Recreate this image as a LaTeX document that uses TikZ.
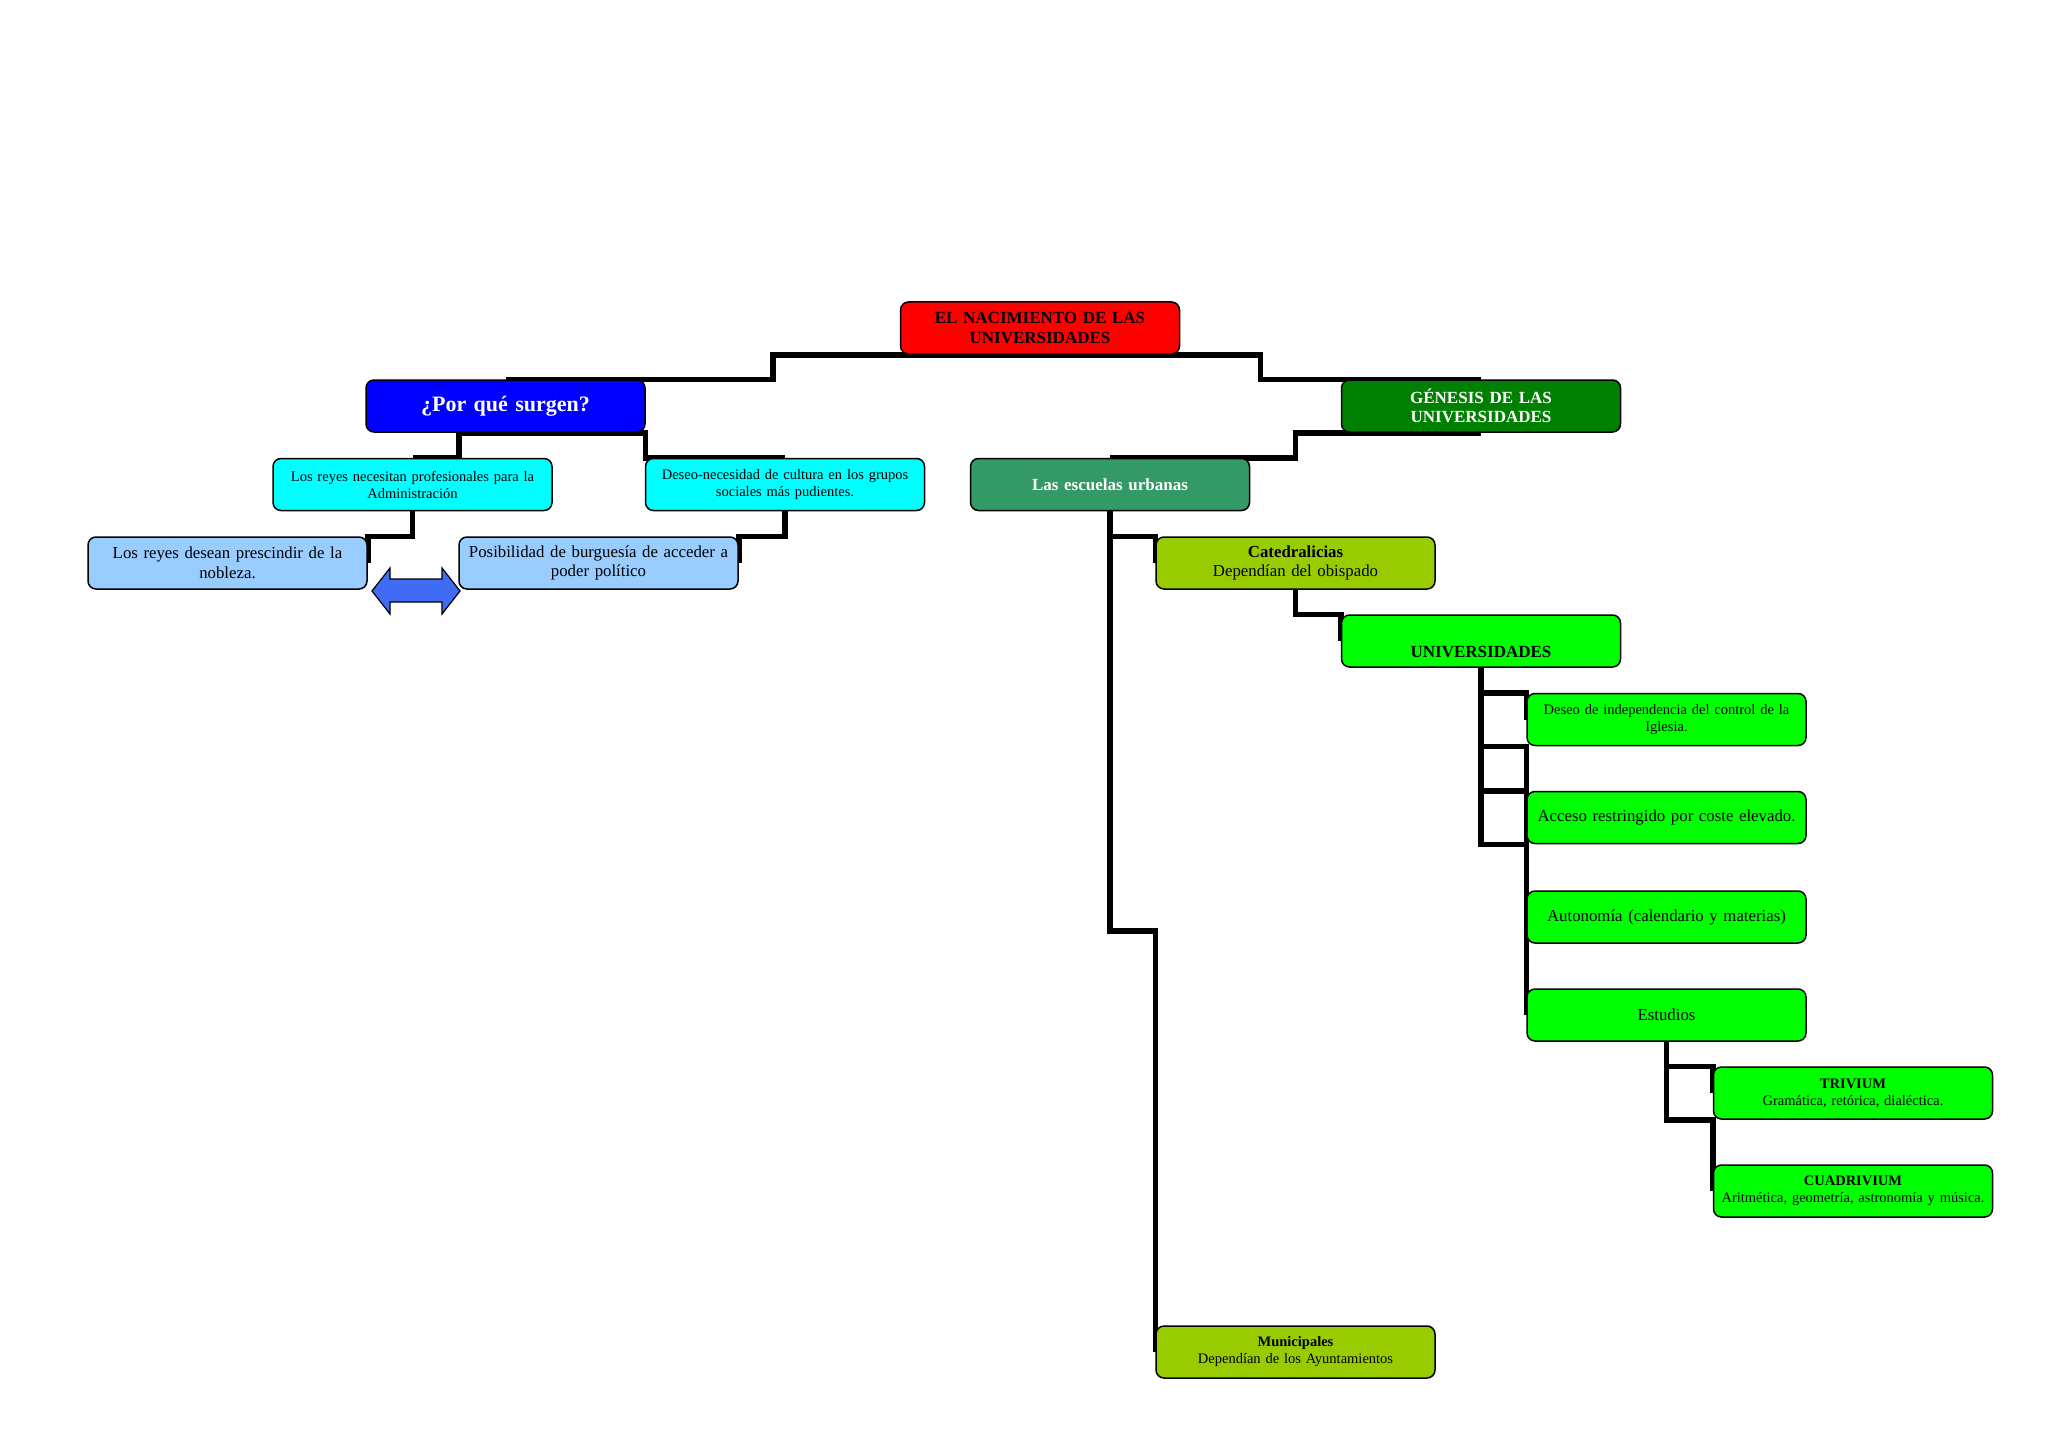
\documentclass[tikz,border=0pt]{standalone}
\usepackage{fontspec}
\setmainfont{Liberation Serif}
\usetikzlibrary{calc,backgrounds}
\definecolor{cred}{HTML}{FF0000}
\definecolor{cblue}{HTML}{0000FF}
\definecolor{cdkgreen}{HTML}{008000}
\definecolor{ccyan}{HTML}{00FFFF}
\definecolor{cltblue}{HTML}{99CCFF}
\definecolor{cseagreen}{HTML}{339966}
\definecolor{colive}{HTML}{99CC00}
\definecolor{clime}{HTML}{00FF00}
\definecolor{carrow}{HTML}{3F6BF5}
\tikzset{
  box/.style={draw=black, line width=1.5pt, rounded corners=8pt,
    minimum width=279pt, minimum height=52pt, align=center,
    inner sep=2pt, text width=272pt},
  smalltxt/.style={font=\fontsize{14.5}{17}\selectfont},
  bigtxt/.style={font=\fontsize{16.8}{19.6}\selectfont},
  conn/.style={line width=5.5pt, draw=black},
}
\begin{document}
\begin{tikzpicture}[x=1pt,y=-1pt]
\useasboundingbox (0,0) rectangle (2048,1447);

\node[box, fill=cred, font=\fontsize{17}{19.6}\selectfont\bfseries] (title) at (1040,328) {EL NACIMIENTO DE LAS\\UNIVERSIDADES};
\node[box, fill=cblue, text=white, font=\fontsize{22}{24}\selectfont\bfseries] (why) at (505.5,406) {¿Por qué surgen?};
\node[box, fill=cdkgreen, text=white, font=\fontsize{17}{19.6}\selectfont\bfseries] (gen) at (1481,406) {GÉNESIS DE LAS\\UNIVERSIDADES};
\node[box, fill=ccyan, smalltxt] (cy1) at (412.5,484.5) {Los reyes necesitan profesionales para la\\Administración};
\node[box, fill=ccyan, smalltxt] (cy2) at (785,484.5) {Deseo-necesidad de cultura en los grupos\\sociales más pudientes.};
\node[box, fill=cseagreen, text=white, font=\fontsize{17}{19.6}\selectfont\bfseries] (esc) at (1110,484.5) {Las escuelas urbanas};
\node[box, fill=cltblue, bigtxt] (lb1) at (227.5,563) {Los reyes desean prescindir de la\\nobleza.};
\node[box, fill=cltblue, bigtxt] (lb2) at (598.5,563) {Posibilidad de burguesía de acceder a\\poder político};
\node[box, fill=colive, bigtxt] (cat) at (1295.5,563) {\textbf{Catedralicias}\\Dependían del obispado};
\node[box, fill=clime, font=\fontsize{17}{19.6}\selectfont\bfseries] (univ) at (1481,641) {\mbox{}\\[14pt]UNIVERSIDADES};
\node[box, fill=clime, smalltxt] (deseo) at (1666.5,719.5) {Deseo de independencia del control de la\\Iglesia.};
\node[box, fill=clime, bigtxt] (acceso) at (1666.5,817.5) {Acceso restringido por coste elevado.};
\node[box, fill=clime, bigtxt] (auto) at (1666.5,917) {Autonomía (calendario y materias)};
\node[box, fill=clime, bigtxt] (est) at (1666.5,1015) {Estudios};
\node[box, fill=clime, smalltxt] (triv) at (1853,1093) {\textbf{TRIVIUM}\\Gramática, retórica, dialéctica.};
\node[box, fill=clime, smalltxt] (cuad) at (1853,1191) {\textbf{CUADRIVIUM}\\Aritmética, geometría, astronomía y música.};
\node[box, fill=colive, smalltxt] (mun) at (1295.5,1352) {\textbf{Municipales}\\Dependían de los Ayuntamientos};

% double arrow between the two light blue boxes
\coordinate (arr) at (416,591);
\draw[fill=carrow, line width=1.2pt, line join=miter]
  ($(arr)+(-44,0)$) -- ($(arr)+(-26,-23)$) -- ($(arr)+(-26,-12)$) -- ($(arr)+(26,-12)$)
  -- ($(arr)+(26,-23)$) -- ($(arr)+(44,0)$) -- ($(arr)+(26,23)$) -- ($(arr)+(26,11)$)
  -- ($(arr)+(-26,11)$) -- ($(arr)+(-26,23)$) -- cycle;

\begin{scope}[on background layer]
\draw[conn] (title.south) -| ($(title.south)!0.5!(why.north)$) |- (why.north);
\draw[conn] (title.south) -| ($(title.south)!0.5!(gen.north)$) |- (gen.north);
\draw[conn] (why.south) -| ($(why.south)!0.5!(cy1.north)$) |- (cy1.north);
\draw[conn] (why.south) -| ($(why.south)!0.5!(cy2.north)$) |- (cy2.north);
\draw[conn] (gen.south) -| ($(gen.south)!0.5!(esc.north)$) |- (esc.north);
\draw[conn] (cy1.south) |- (lb1.north east) -- (lb1.east);
\draw[conn] (cy2.south) |- (lb2.north east) -- (lb2.east);
\draw[conn] (esc.south) |- (cat.north west) -- (cat.west);
\draw[conn] (esc.south) |- ($(cat.north west)!0.5!(mun.north west)$) -- (mun.west);
\draw[conn] (cat.south) |- (univ.north west) -- (univ.west);
\draw[conn] (univ.south) |- (deseo.north west) -- (deseo.west);
\draw[conn] (univ.south) |- (acceso.north west) -- (acceso.west);
\draw[conn] (univ.south) |- (deseo.south west) -- (auto.west);
\draw[conn] (univ.south) |- (acceso.south west) -- (est.west);
\draw[conn] (est.south) |- (triv.north west) -- (triv.west);
\draw[conn] (est.south) |- (triv.south west) -- (cuad.west);
\end{scope}
\end{tikzpicture}
\end{document}
